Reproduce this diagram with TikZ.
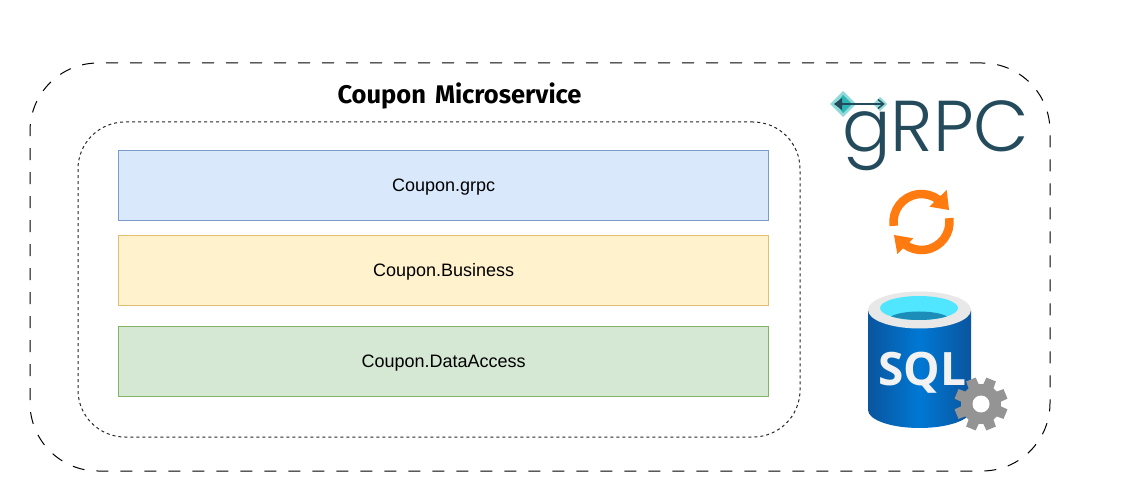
\documentclass[tikz,border=0pt]{standalone}
\usepackage{fontspec}
\setmainfont{Liberation Sans}
\newfontfamily\titlefont{Fira Sans}
\newfontfamily\logofont{Poppins Light}
\newfontfamily\sqlfont{Open Sans}
\definecolor{bluefill}{HTML}{DAE8FC}\definecolor{blueline}{HTML}{7C9BC9}
\definecolor{yelfill}{HTML}{FFF2CC}\definecolor{yelline}{HTML}{E0C070}
\definecolor{grnfill}{HTML}{D5E8D4}\definecolor{grnline}{HTML}{82B366}
\definecolor{logoink}{HTML}{234B5C}\definecolor{tealA}{HTML}{8FD9D9}\definecolor{tealB}{HTML}{2DB5B5}
\definecolor{syncor}{HTML}{FF7A0F}
\definecolor{dbedge}{HTML}{0A559E}\definecolor{dbmid}{HTML}{0078D4}
\definecolor{dbtop}{HTML}{E8E8E8}\definecolor{dbcyan}{HTML}{50E6FF}\definecolor{dbdeep}{HTML}{1C8DB8}
\definecolor{gearcol}{HTML}{949494}
\tikzset{
  x=1pt,y=-1pt,
  layerbox/.style={draw,line width=1pt,minimum width=650pt,minimum height=69.5pt,inner sep=0pt,font=\fontsize{18}{21}\selectfont,text=black},
  outerframe/.style={draw=black,line width=1pt,rounded corners=68pt,dash pattern=on 12pt off 12pt,minimum width=1020pt,minimum height=408pt,inner sep=0pt},
  innerframe/.style={draw=black!85,line width=1pt,rounded corners=47pt,dash pattern=on 3pt off 3pt,minimum width=722pt,minimum height=315pt,inner sep=0pt},
  syncarc/.style={draw=syncor,line width=8.5pt},
}
\begin{document}
\begin{tikzpicture}
\useasboundingbox (0,0) rectangle (1137,502);
\fill[white] (0,0) rectangle (1137,502);
\node[outerframe] (outer) at (540,267) {};
\node[innerframe] (inner) at (439,279.5) {};
\node[layerbox,fill=bluefill,draw=blueline] (grpc) at (443.7,185.5) {\raisebox{0pt}[12pt][0pt]{Coupon.grpc}};
\node[layerbox,fill=yelfill,draw=yelline] (business) at (443.7,270.5) {\raisebox{0pt}[12pt][0pt]{Coupon.Business}};
\node[layerbox,fill=grnfill,draw=grnline] (data) at (443.7,361.5) {\raisebox{0pt}[12pt][0pt]{Coupon.DataAccess}};
\node[font=\titlefont\bfseries\fontsize{25.5}{30}\selectfont,text=black] (title) at (459.5,95.5) {Coupon\hspace{3pt} Microservice};

% gRPC logo
\fill[tealA] (830,104)--(843,91)--(856,104)--(843,117)--cycle;
\fill[tealB] (843,95)--(852,104)--(843,113)--(836,104)--cycle;
\fill[tealA] (873,104)--(880,97)--(887,104)--(880,111)--cycle;
\draw[logoink,line width=1.4pt] (838,104)--(884,104);
\fill[logoink] (834,104)--(842,98)--(842,110)--cycle;
\draw[logoink,line width=1.4pt] (878,99.5)--(883.5,104)--(878,108.5);
\node[font=\logofont\fontsize{72}{72}\selectfont,text=logoink,anchor=base west,inner sep=0pt] (logo) at (842,152) {gRPC};

% sync icon
\coordinate (syncc) at (921.5,222);
\draw[syncarc] (syncc) ++(188:28pt) arc[start angle=188,end angle=52,radius=28pt];
\draw[syncarc] (syncc) ++(8:28pt) arc[start angle=8,end angle=-128,radius=28pt];
\fill[syncor] (946.7,190)--(949,210)--(929.3,206.7)--cycle;
\fill[syncor] (894,235)--(913.3,238.3)--(897.3,254)--cycle;

% SQL database icon
\path[left color=dbedge,right color=dbedge,middle color=dbmid]
  (868,310) -- (868,410) arc[start angle=180,end angle=360,x radius=51.5pt,y radius=18pt]
  -- (971,310) -- cycle;
\fill[dbtop] (919.5,310) ellipse[x radius=51.5pt,y radius=18.5pt];
\fill[dbcyan] (919,308) ellipse[x radius=39pt,y radius=12pt];
\begin{scope}
  \clip (919,308) ellipse[x radius=39pt,y radius=12pt];
  \fill[dbdeep] (919,320) ellipse[x radius=31pt,y radius=8.5pt];
\end{scope}
\node[font=\sqlfont\bfseries\fontsize{46}{46}\selectfont,text=white!95!black,anchor=base,inner sep=0pt] (sql) at (922.5,385) {SQL};
\coordinate (gearc) at (981,404);
\fill[gearcol] (gearc) circle[radius=20pt];
\foreach \a in {0,45,...,315}{
  \fill[gearcol,shift={(gearc)},rotate=\a+22.5]
    (18:18pt) -- (11:27pt) -- (-11:27pt) -- (-18:18pt) -- cycle;
}
\fill[white] (gearc) circle[radius=8.5pt];
\end{tikzpicture}
\end{document}
